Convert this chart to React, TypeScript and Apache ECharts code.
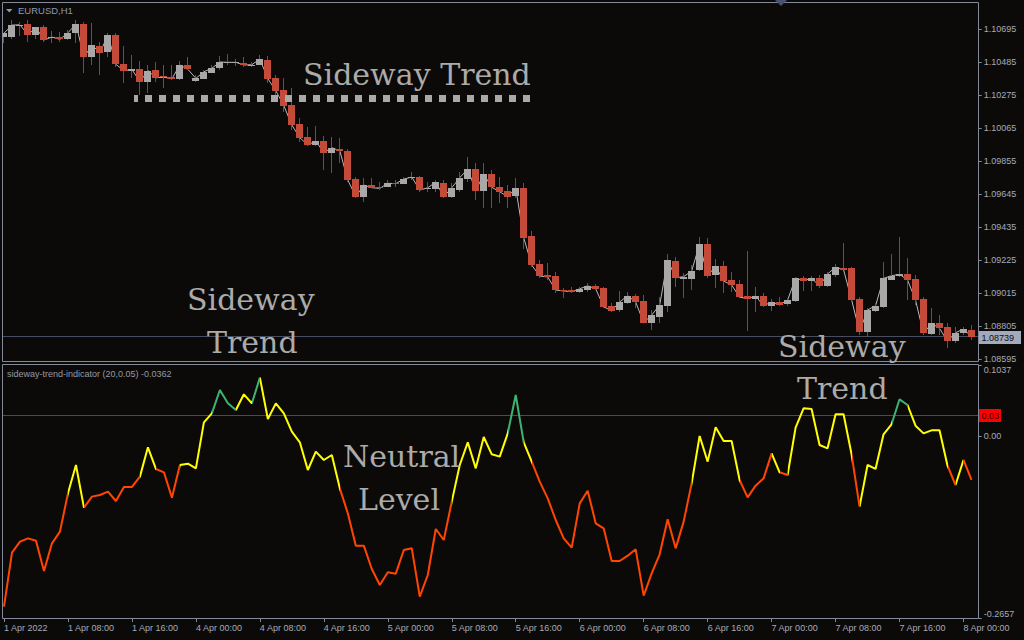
import React, { useEffect, useRef } from 'react';
import * as echarts from 'echarts';

// ---------- data (EURUSD H1, 1 Apr 2022 00:00 -> 8 Apr 2022 01:00) ----------
const open = [
  1.10648, 1.10648, 1.10721, 1.10729, 1.10659, 1.10708, 1.10638, 1.10646, 1.10631, 1.10673,
  1.10729, 1.10517, 1.10589, 1.10552, 1.10659, 1.10474, 1.10428, 1.10440, 1.10362, 1.10436,
  1.10398, 1.10393, 1.10381, 1.10468, 1.10368, 1.10381, 1.10419, 1.10447, 1.10483, 1.10484,
  1.10483, 1.10468, 1.10470, 1.10500, 1.10385, 1.10309, 1.10213, 1.10092, 1.10010, 1.09959,
  1.09984, 1.09910, 1.09933, 1.09922, 1.09742, 1.09630, 1.09704, 1.09690, 1.09693, 1.09719,
  1.09713, 1.09747, 1.09755, 1.09677, 1.09681, 1.09719, 1.09630, 1.09672, 1.09744, 1.09806,
  1.09668, 1.09774, 1.09693, 1.09668, 1.09636, 1.09685, 1.09380, 1.09201, 1.09131, 1.09125,
  1.09038, 1.09038, 1.09025, 1.09038, 1.09063, 1.09050, 1.08936, 1.08909, 1.08953, 1.09000,
  1.08966, 1.08828, 1.08866, 1.08936, 1.09221, 1.09108, 1.09108, 1.09163, 1.09329, 1.09131,
  1.09189, 1.09100, 1.09074, 1.08998, 1.08981, 1.08998, 1.08936, 1.08960, 1.08949, 1.08966,
  1.09112, 1.09095, 1.09114, 1.09061, 1.09131, 1.09178, 1.09174, 1.08979, 1.08771, 1.08904,
  1.08929, 1.09102, 1.09125, 1.09138, 1.09106, 1.08979, 1.08756, 1.08826, 1.08798, 1.08713,
  1.08760, 1.08781,
];
const high = [
  1.10673, 1.10754, 1.10743, 1.10754, 1.10712, 1.10722, 1.10684, 1.10678, 1.10691, 1.10754,
  1.10743, 1.10733, 1.10614, 1.10670, 1.10670, 1.10591, 1.10531, 1.10493, 1.10468, 1.10489,
  1.10468, 1.10468, 1.10493, 1.10521, 1.10404, 1.10436, 1.10468, 1.10527, 1.10536, 1.10506,
  1.10521, 1.10489, 1.10531, 1.10527, 1.10404, 1.10385, 1.10320, 1.10129, 1.10075, 1.10080,
  1.10018, 1.10012, 1.10003, 1.09931, 1.09757, 1.09747, 1.09747, 1.09725, 1.09736, 1.09736,
  1.09757, 1.09789, 1.09761, 1.09725, 1.09736, 1.09736, 1.09715, 1.09789, 1.09880, 1.09842,
  1.09842, 1.09800, 1.09757, 1.09704, 1.09747, 1.09715, 1.09411, 1.09227, 1.09210, 1.09152,
  1.09047, 1.09053, 1.09057, 1.09079, 1.09074, 1.09057, 1.08951, 1.09030, 1.09023, 1.09011,
  1.09004, 1.08909, 1.08993, 1.09265, 1.09244, 1.09142, 1.09195, 1.09371, 1.09365, 1.09231,
  1.09221, 1.09150, 1.09100, 1.09284, 1.09057, 1.09015, 1.08979, 1.08993, 1.08983, 1.09121,
  1.09125, 1.09125, 1.09131, 1.09152, 1.09200, 1.09333, 1.09184, 1.08993, 1.08919, 1.08951,
  1.09212, 1.09263, 1.09375, 1.09238, 1.09131, 1.08993, 1.08919, 1.08877, 1.08824, 1.08802,
  1.08802, 1.08813,
];
const low = [
  1.10606, 1.10633, 1.10654, 1.10614, 1.10633, 1.10616, 1.10608, 1.10616, 1.10627, 1.10608,
  1.10420, 1.10468, 1.10404, 1.10519, 1.10457, 1.10351, 1.10383, 1.10277, 1.10290, 1.10362,
  1.10320, 1.10372, 1.10372, 1.10436, 1.10362, 1.10379, 1.10417, 1.10436, 1.10468, 1.10463,
  1.10457, 1.10457, 1.10468, 1.10351, 1.10277, 1.10171, 1.10054, 1.09980, 1.09955, 1.09955,
  1.09800, 1.09781, 1.09844, 1.09725, 1.09620, 1.09598, 1.09683, 1.09672, 1.09690, 1.09693,
  1.09712, 1.09736, 1.09661, 1.09661, 1.09661, 1.09620, 1.09620, 1.09661, 1.09725, 1.09609,
  1.09556, 1.09558, 1.09587, 1.09558, 1.09620, 1.09295, 1.09180, 1.09110, 1.09100, 1.09019,
  1.08987, 1.09015, 1.09015, 1.09025, 1.09036, 1.08919, 1.08894, 1.08898, 1.08947, 1.08919,
  1.08824, 1.08781, 1.08828, 1.08898, 1.09057, 1.08987, 1.09036, 1.09160, 1.09110, 1.09047,
  1.09019, 1.09025, 1.08983, 1.08775, 1.08898, 1.08929, 1.08904, 1.08934, 1.08934, 1.08961,
  1.09031, 1.09031, 1.09047, 1.09055, 1.09121, 1.09163, 1.08966, 1.08750, 1.08739, 1.08894,
  1.08923, 1.09100, 1.09119, 1.08972, 1.08940, 1.08750, 1.08750, 1.08750, 1.08669, 1.08697,
  1.08750, 1.08718,
];
const close = [
  1.10670, 1.10722, 1.10724, 1.10659, 1.10708, 1.10627, 1.10646, 1.10631, 1.10673, 1.10729,
  1.10517, 1.10595, 1.10546, 1.10659, 1.10472, 1.10432, 1.10440, 1.10362, 1.10432, 1.10387,
  1.10390, 1.10381, 1.10468, 1.10440, 1.10383, 1.10425, 1.10447, 1.10487, 1.10485, 1.10485,
  1.10468, 1.10470, 1.10506, 1.10381, 1.10304, 1.10209, 1.10086, 1.10005, 1.09959, 1.09984,
  1.09910, 1.09942, 1.09922, 1.09736, 1.09630, 1.09704, 1.09687, 1.09683, 1.09715, 1.09713,
  1.09742, 1.09755, 1.09672, 1.09687, 1.09723, 1.09630, 1.09687, 1.09751, 1.09806, 1.09668,
  1.09774, 1.09690, 1.09661, 1.09630, 1.09685, 1.09369, 1.09195, 1.09125, 1.09119, 1.09036,
  1.09030, 1.09025, 1.09044, 1.09063, 1.09044, 1.08929, 1.08904, 1.08960, 1.09000, 1.08960,
  1.08828, 1.08877, 1.08940, 1.09227, 1.09114, 1.09121, 1.09157, 1.09329, 1.09125, 1.09189,
  1.09093, 1.09068, 1.08991, 1.08981, 1.08998, 1.08936, 1.08960, 1.08942, 1.08972, 1.09112,
  1.09095, 1.09112, 1.09061, 1.09138, 1.09182, 1.09165, 1.08974, 1.08771, 1.08909, 1.08936,
  1.09110, 1.09127, 1.09136, 1.09100, 1.08972, 1.08760, 1.08824, 1.08792, 1.08711, 1.08764,
  1.08788, 1.08739,
];
// sideway-trend-indicator (20, 0.05)
const indicator = [
  -0.2492, -0.1703, -0.1542, -0.1494, -0.1528, -0.1971, -0.1567, -0.1396, -0.0837, -0.0423,
  -0.1046, -0.0885, -0.0861, -0.0812, -0.0949, -0.0744, -0.0744, -0.0593, -0.0165, -0.0481,
  -0.0530, -0.0900, -0.0423, -0.0404, -0.0472, 0.0200, 0.0331, 0.0672, 0.0477, 0.0380,
  0.0609, 0.0477, 0.0852, 0.0249, 0.0477, 0.0331, 0.0064, -0.0092, -0.0496, -0.0228,
  -0.0350, -0.0277, -0.0764, -0.1129, -0.1601, -0.1601, -0.1942, -0.2175, -0.1990, -0.2010,
  -0.1664, -0.1640, -0.2345, -0.2029, -0.1357, -0.1518, -0.0958, -0.0423, -0.0092, -0.0472,
  -0.0014, -0.0267, -0.0301, 0.0039, 0.0599, -0.0092, -0.0374, -0.0666, -0.0910, -0.1226,
  -0.1494, -0.1630, -0.0983, -0.0798, -0.1275, -0.1348, -0.1825, -0.1825, -0.1747, -0.1654,
  -0.2331, -0.2005, -0.1727, -0.1216, -0.1640, -0.1250, -0.0691, 0.0000, -0.0374, 0.0127,
  -0.0073, -0.0073, -0.0642, -0.0895, -0.0725, -0.0618, -0.0253, -0.0530, -0.0569, 0.0122,
  0.0404, 0.0395, -0.0131, -0.0180, 0.0317, 0.0317, -0.0267, -0.1031, -0.0423, -0.0481,
  0.0025, 0.0171, 0.0536, 0.0453, 0.0151, 0.0039, 0.0083, 0.0083, -0.0433, -0.0715,
  -0.0350, -0.0642,
];
// indicator state by bar range: [from, to, state]
const indicatorStates: [number, number, string][] = [
  [0, 7.7, 'down'], [7.7, 9.6, 'flat'], [9.6, 17.3, 'down'], [17.3, 18.7, 'flat'],
  [18.7, 21.5, 'down'], [21.5, 25.8, 'flat'], [25.8, 28.9, 'up'], [28.9, 31, 'flat'],
  [31, 32.1, 'up'], [32.1, 42.2, 'flat'], [42.2, 55.8, 'down'], [55.8, 63.4, 'flat'],
  [63.4, 64.5, 'up'], [64.5, 66, 'flat'], [66, 85.7, 'down'], [85.7, 91.5, 'flat'],
  [91.5, 95.5, 'down'], [95.5, 96.8, 'flat'], [96.8, 98.3, 'down'], [98.3, 106, 'flat'],
  [106, 107.1, 'down'], [107.1, 110.8, 'flat'], [110.8, 112.6, 'up'], [112.6, 117.9, 'flat'],
  [117.9, 119, 'down'], [119, 120, 'flat'], [120, 123, 'down'],
];
const days = ['1 Apr', '4 Apr', '5 Apr', '6 Apr', '7 Apr', '8 Apr'];
const tickLabels = [
  '1 Apr 2022', '1 Apr 08:00', '1 Apr 16:00', '4 Apr 00:00', '4 Apr 08:00', '4 Apr 16:00',
  '5 Apr 00:00', '5 Apr 08:00', '5 Apr 16:00', '6 Apr 00:00', '6 Apr 08:00', '6 Apr 16:00',
  '7 Apr 00:00', '7 Apr 08:00', '7 Apr 16:00', '8 Apr 00:00',
];
const priceTicks = [1.08595, 1.08805, 1.09015, 1.09225, 1.09435, 1.09645, 1.09855, 1.10065, 1.10275, 1.10485, 1.10695];
const indicatorTicks = [-0.2657, 0, 0.1037];
const indicatorLevel = 0.03;
const symbolName = 'EURUSD,H1';
const indicatorTitle = 'sideway-trend-indicator (20,0.05) -0.0362';

const categories: string[] = [];
days.forEach((d) => {
  for (let h = 0; h < 24; h++) categories.push(`${d} ${String(h).padStart(2, '0')}:00`);
});
categories.length = close.length;

// ---------- styles ----------
const BG = '#0c0a08';
const FRAME = '#838a9a';
const LABEL = '#a4abba';
const BULL = '#a8a8a8';
const BEAR = '#c44a3a';
const WICK = '#575757';
const ANNOT = '#ababab';
const PRICE_LINE = '#474d61';
const LEVEL_RED = '#ff0000';
const STATE_COLORS: Record<string, string> = { down: '#ff4500', flat: '#ffff00', up: '#3cb371' };
const SANS = '"Liberation Sans", Arial, sans-serif';
const SERIF = '"DejaVu Serif", serif';

const renderCandle = (_params: any, api: any) => {
  const idx = api.value(0);
  const o = api.value(1);
  const h = api.value(2);
  const l = api.value(3);
  const c = api.value(4);
  const po = api.coord([idx, o]);
  const pc = api.coord([idx, c]);
  const ph = api.coord([idx, h]);
  const pl = api.coord([idx, l]);
  const xc = Math.floor(po[0]) + 0.5;
  const top = Math.round(Math.min(po[1], pc[1]));
  const bot = Math.round(Math.max(po[1], pc[1]));
  return {
    type: 'group',
    children: [
      {
        type: 'line',
        shape: { x1: xc, y1: Math.round(ph[1]), x2: xc, y2: Math.round(pl[1]) },
        style: { stroke: WICK, lineWidth: 1 },
      },
      {
        type: 'rect',
        shape: { x: Math.round(po[0] - 3.5), y: top, width: 7, height: Math.max(1, bot - top) },
        style: { fill: c >= o ? BULL : BEAR },
      },
    ],
  };
};

const annotation = (text: string, x: number, y: number) => ({
  type: 'text',
  x,
  y,
  z: 200,
  silent: true,
  style: { text, fill: ANNOT, fontSize: 30, fontFamily: SERIF, align: 'left', verticalAlign: 'middle' },
});

// horizontal level line across a pane with a value box on the price scale
const levelMarker = (y: number, text: string, lineColor: string, boxColor: string, textColor: string, boxW: number) => {
  const yy = Math.floor(y) + 0.5;
  return [
    {
      type: 'line',
      z: 2,
      silent: true,
      shape: { x1: 3, y1: yy, x2: 978, y2: yy },
      style: { stroke: lineColor, lineWidth: 1 },
    },
    {
      type: 'rect',
      z: 160,
      silent: true,
      shape: { x: 979, y: Math.round(y) - 6, width: boxW, height: 13 },
      style: { fill: boxColor },
    },
    {
      type: 'text',
      z: 161,
      silent: true,
      x: 981.5,
      y: Math.round(y) + 0.5,
      style: { text, fill: textColor, fontSize: 9, fontFamily: SANS, verticalAlign: 'middle', align: 'left' },
    },
  ];
};

export default function App() {
  const ref = useRef<HTMLDivElement>(null);
  useEffect(() => {
    if (!ref.current) return;
    const chart = echarts.init(ref.current, undefined, { renderer: 'svg' });
    const candleData = close.map((c, i) => [i, open[i], high[i], low[i], c]);
    const lastPrice = close[close.length - 1];

    const baseGraphics: any[] = [
      {
        type: 'rect',
        z: 140,
        silent: true,
        shape: { x: 0, y: 0, width: 2.5, height: 640 },
        style: { fill: BG },
      },
      {
        type: 'rect',
        z: 150,
        silent: true,
        shape: { x: 2.5, y: 2.5, width: 976, height: 359 },
        style: { fill: 'none', stroke: FRAME, lineWidth: 1 },
      },
      {
        type: 'rect',
        z: 150,
        silent: true,
        shape: { x: 2.5, y: 364.5, width: 976, height: 254 },
        style: { fill: 'none', stroke: FRAME, lineWidth: 1 },
      },
      {
        type: 'polygon',
        z: 150,
        silent: true,
        shape: { points: [[775, 0], [787, 0], [781, 6]] },
        style: { fill: '#4a5270' },
      },
      {
        type: 'polygon',
        z: 150,
        silent: true,
        shape: { points: [[6, 9], [12.5, 9], [9.25, 12.5]] },
        style: { fill: '#8d99b3' },
      },
      {
        type: 'text',
        x: 18,
        y: 10.5,
        z: 150,
        silent: true,
        style: { text: symbolName, fill: '#8d99b3', fontSize: 9.5, fontFamily: SANS, verticalAlign: 'middle' },
      },
      {
        type: 'text',
        x: 7,
        y: 374,
        z: 150,
        silent: true,
        style: { text: indicatorTitle, fill: '#9499a6', fontSize: 9, fontFamily: SANS, verticalAlign: 'middle' },
      },
      {
        type: 'line',
        z: 120,
        silent: true,
        shape: { x1: 134, y1: 98.5, x2: 530, y2: 98.5 },
        style: { stroke: '#a9a9a9', lineWidth: 7, lineDash: [7, 7], lineDashOffset: 3 },
      },
      annotation('Sideway Trend', 303, 74),
      annotation('Sideway', 187, 299),
      annotation('Trend', 207, 342),
      annotation('Sideway', 778, 346),
      annotation('Trend', 797, 388),
      annotation('Neutral', 343, 456),
      annotation('Level', 358, 499),
    ];

    const option: any = {
      animation: false,
      backgroundColor: BG,
      grid: [
        { left: -0.5, top: 2, width: 976, height: 360 },
        { left: -0.5, top: 365, width: 976, height: 253 },
      ],
      xAxis: [
        { type: 'category', gridIndex: 0, data: categories, boundaryGap: true, show: false },
        {
          type: 'category',
          gridIndex: 1,
          data: categories,
          boundaryGap: true,
          position: 'bottom',
          axisLine: { show: false, onZero: false },
          axisTick: { show: true, interval: 7, alignWithLabel: true, length: 4, lineStyle: { color: FRAME } },
          axisLabel: {
            interval: 7,
            align: 'left',
            margin: 5,
            color: LABEL,
            fontSize: 9,
            fontFamily: SANS,
            formatter: (_v: string, i: number) => tickLabels[Math.round(i / 8)] ?? '',
          },
          splitLine: { show: false },
        },
      ],
      yAxis: [
        {
          type: 'value',
          gridIndex: 0,
          position: 'right',
          offset: 3.2,
          min: 1.08578,
          max: 1.10869,
          splitLine: { show: false },
          axisLine: { show: false },
          axisTick: { show: true, length: 3, customValues: priceTicks, lineStyle: { color: FRAME } },
          axisLabel: {
            customValues: priceTicks,
            margin: 5,
            color: LABEL,
            fontSize: 9,
            fontFamily: SANS,
            formatter: (v: number) => v.toFixed(5),
          },
        },
        {
          type: 'value',
          gridIndex: 1,
          position: 'right',
          offset: 3.2,
          min: -0.2657,
          max: 0.1037,
          splitLine: { show: false },
          axisLine: { show: false },
          axisTick: { show: true, length: 3, customValues: indicatorTicks, lineStyle: { color: FRAME } },
          axisLabel: {
            customValues: indicatorTicks,
            margin: 5,
            color: LABEL,
            fontSize: 9,
            fontFamily: SANS,
            verticalAlignMinLabel: 'bottom',
            verticalAlignMaxLabel: 'top',
            formatter: (v: number) => (Math.abs(v) < 1e-9 ? '0.00' : v.toFixed(4)),
          },
        },
      ],
      visualMap: {
        type: 'piecewise',
        show: false,
        seriesIndex: 2,
        dimension: 0,
        pieces: indicatorStates.map(([from, to, s]) => ({ gte: from, lt: to, color: STATE_COLORS[s] })),
        outOfRange: { color: STATE_COLORS.down },
      },
      series: [
        {
          type: 'line',
          xAxisIndex: 0,
          yAxisIndex: 0,
          data: close,
          symbol: 'none',
          silent: true,
          z: 3,
          lineStyle: { color: '#b9b9b9', width: 1 },
        },
        {
          type: 'custom',
          xAxisIndex: 0,
          yAxisIndex: 0,
          data: candleData,
          renderItem: renderCandle,
          encode: { x: 0, y: [1, 2, 3, 4] },
          silent: true,
          z: 4,
        },
        {
          type: 'line',
          xAxisIndex: 1,
          yAxisIndex: 1,
          data: indicator.map((v, i) => [i, v]),
          symbol: 'none',
          silent: true,
          z: 4,
          lineStyle: { width: 2 },
        },
      ],
      graphic: baseGraphics,
    };
    chart.setOption(option);

    // level lines placed through the library's own axis scales
    const yPrice = chart.convertToPixel({ yAxisIndex: 0 }, lastPrice) as number;
    const yLevel = chart.convertToPixel({ yAxisIndex: 1 }, indicatorLevel) as number;
    chart.setOption({
      graphic: [
        ...baseGraphics,
        ...levelMarker(yPrice, lastPrice.toFixed(5), PRICE_LINE, '#a3aabb', '#0d0d18', 42),
        ...levelMarker(yLevel, indicatorLevel.toFixed(2), LEVEL_RED, LEVEL_RED, '#300000', 22),
      ],
    });
    return () => chart.dispose();
  }, []);

  return (
    <div
      ref={ref}
      style={{ position: 'fixed', left: 0, top: 0, width: 1024, height: 640, background: BG }}
    />
  );
}
